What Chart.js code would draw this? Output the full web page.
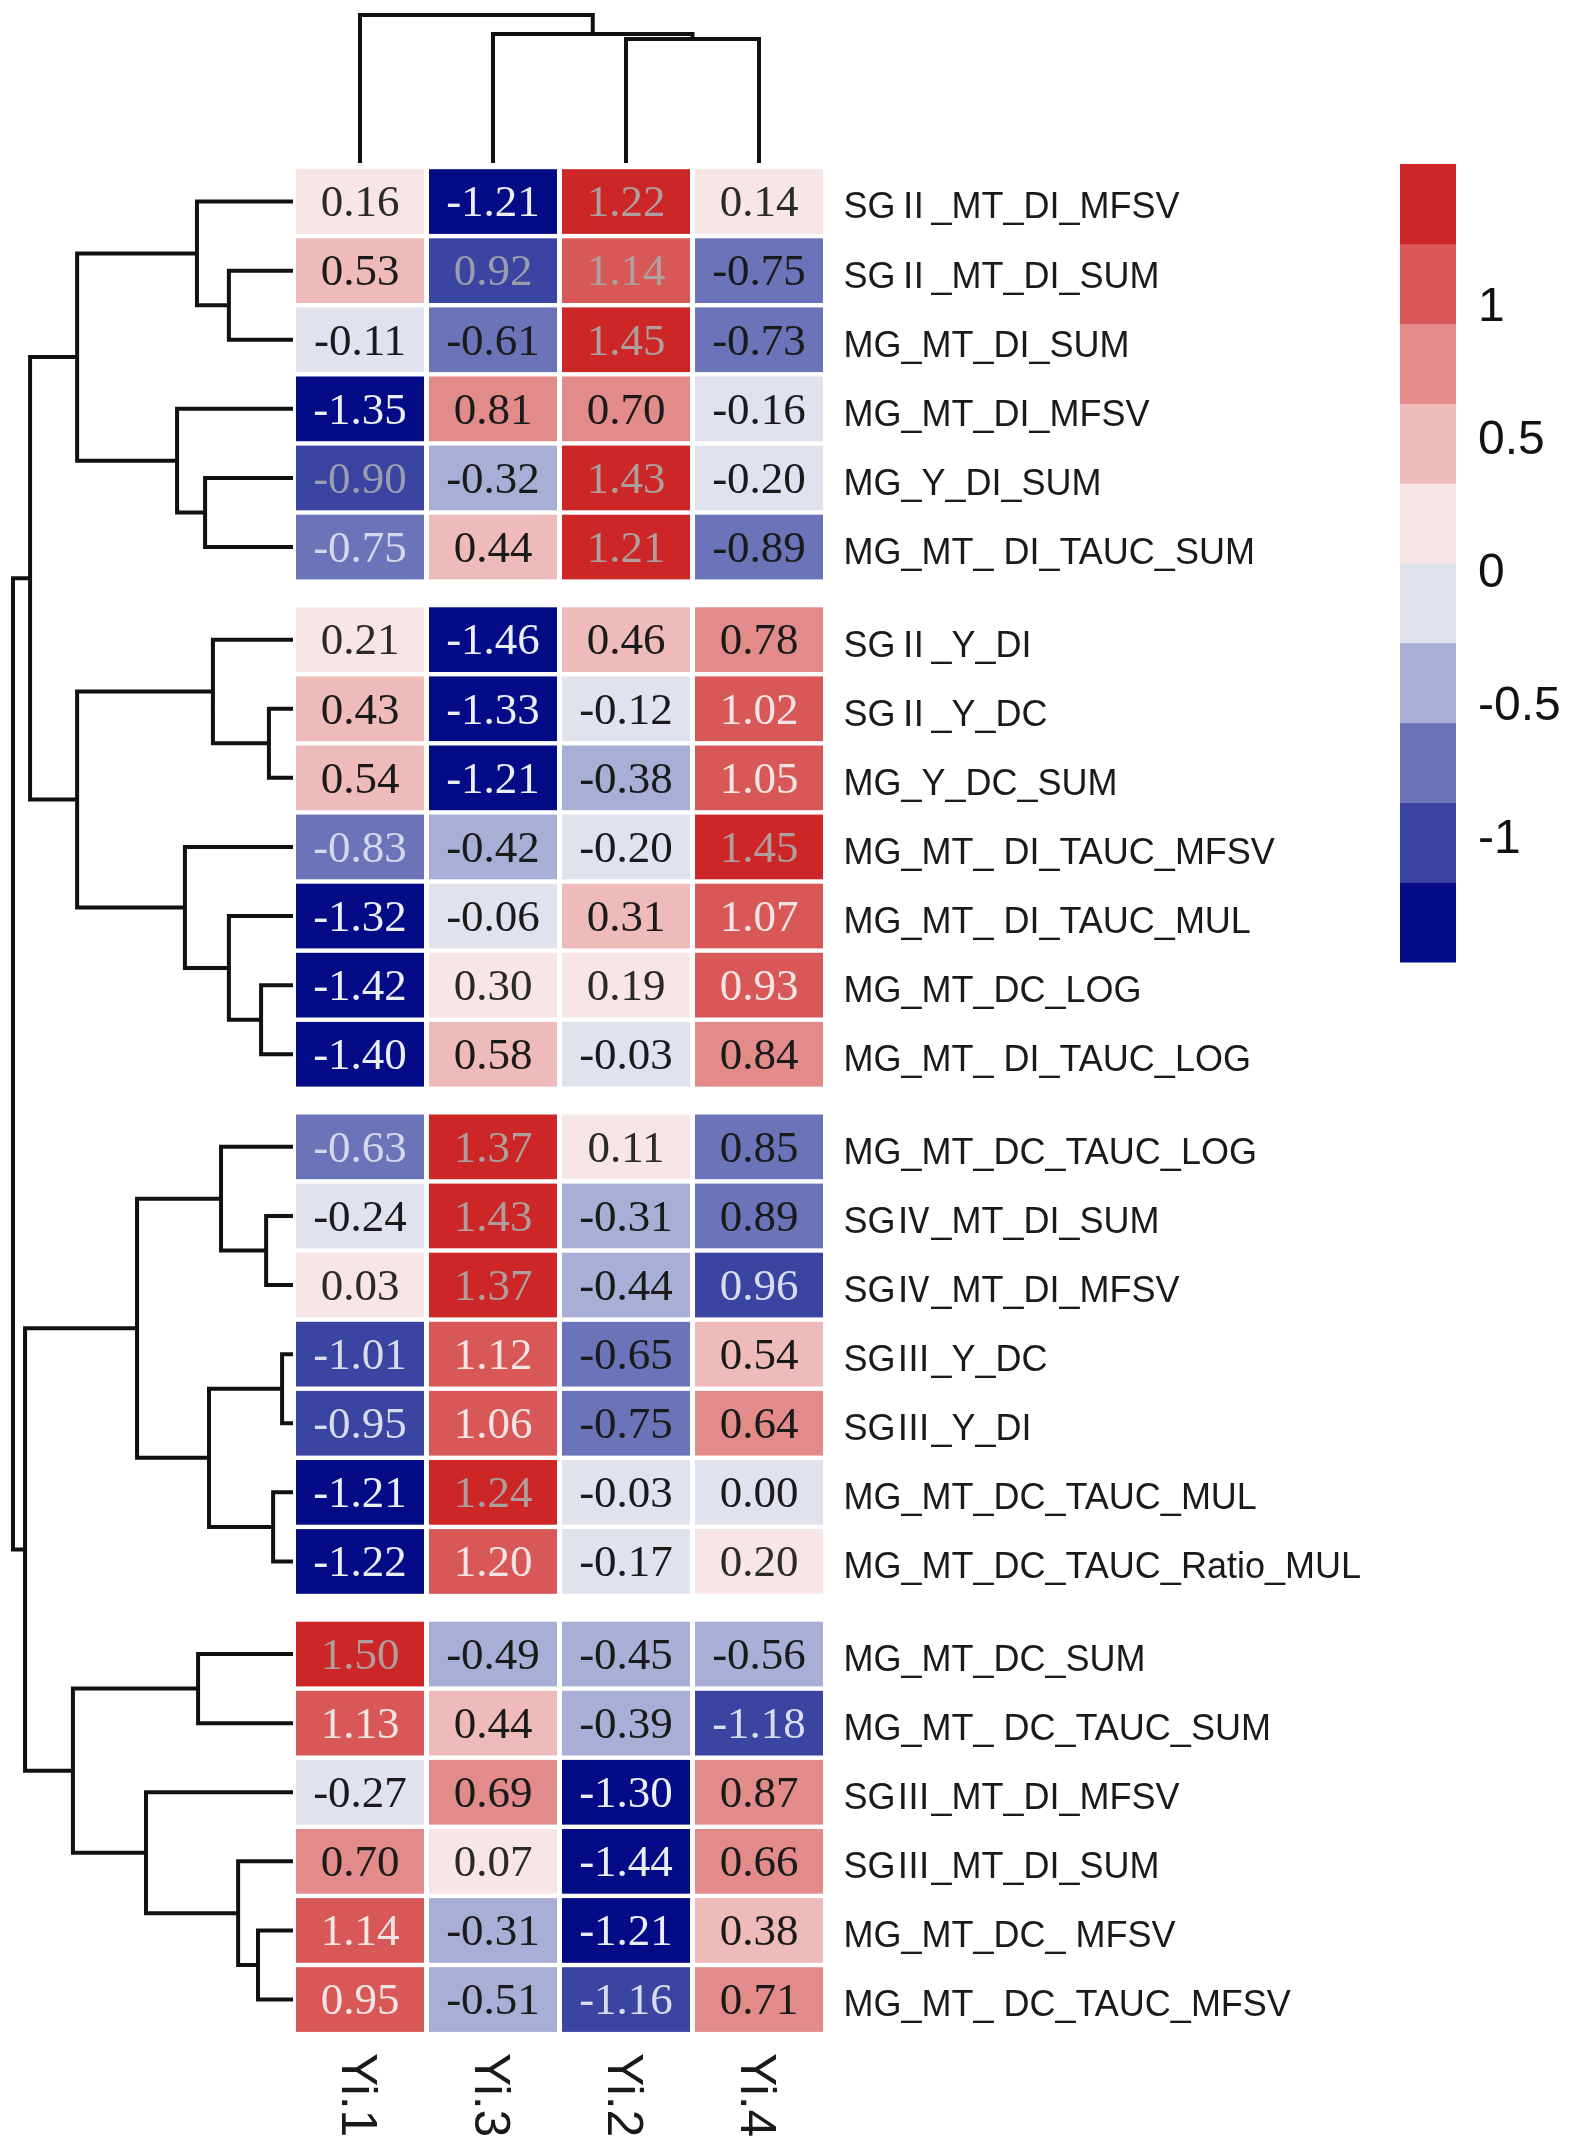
<!DOCTYPE html>
<html>
<head>
<meta charset="utf-8">
<script src="https://cdn.jsdelivr.net/npm/chart.js@4.4.1/dist/chart.umd.min.js"></script>
<style>
  html, body { margin: 0; padding: 0; background: #fff; }
  #wrap { width: 1569px; height: 2153px; position: relative; }
</style>
</head>
<body>
<div id="wrap"><canvas id="heatCanvas"></canvas></div>
<script>
// ---- data ----
const columnLabels = ["Yi.1", "Yi.3", "Yi.2", "Yi.4"];

const rowLabels = [
  "SGⅡ_MT_DI_MFSV", "SGⅡ_MT_DI_SUM", "MG_MT_DI_SUM", "MG_MT_DI_MFSV", "MG_Y_DI_SUM", "MG_MT_ DI_TAUC_SUM",
  "SGⅡ_Y_DI", "SGⅡ_Y_DC", "MG_Y_DC_SUM", "MG_MT_ DI_TAUC_MFSV", "MG_MT_ DI_TAUC_MUL", "MG_MT_DC_LOG", "MG_MT_ DI_TAUC_LOG",
  "MG_MT_DC_TAUC_LOG", "SGⅣ_MT_DI_SUM", "SGⅣ_MT_DI_MFSV", "SGⅢ_Y_DC", "SGⅢ_Y_DI", "MG_MT_DC_TAUC_MUL", "MG_MT_DC_TAUC_Ratio_MUL",
  "MG_MT_DC_SUM", "MG_MT_ DC_TAUC_SUM", "SGⅢ_MT_DI_MFSV", "SGⅢ_MT_DI_SUM", "MG_MT_DC_ MFSV", "MG_MT_ DC_TAUC_MFSV"
];

// rows per cluster block (blocks are separated by a small gap)
const rowGroups = [6, 7, 7, 6];

// one array per column (in displayed column order)
const yi1 = [0.16, 0.53, -0.11, -1.35, -0.90, -0.75, 0.21, 0.43, 0.54, -0.83, -1.32, -1.42, -1.40,
             -0.63, -0.24, 0.03, -1.01, -0.95, -1.21, -1.22, 1.50, 1.13, -0.27, 0.70, 1.14, 0.95];
const yi3 = [-1.21, -0.92, -0.61, 0.81, -0.32, 0.44, -1.46, -1.33, -1.21, -0.42, -0.06, 0.30, 0.58,
             1.37, 1.43, 1.37, 1.12, 1.06, 1.24, 1.20, -0.49, 0.44, 0.69, 0.07, -0.31, -0.51];
const yi2 = [1.22, 1.14, 1.45, 0.70, 1.43, 1.21, 0.46, -0.12, -0.38, -0.20, 0.31, 0.19, -0.03,
             0.11, -0.31, -0.44, -0.65, -0.75, -0.03, -0.17, -0.45, -0.39, -1.30, -1.44, -1.21, -1.16];
const yi4 = [0.14, -0.75, -0.73, -0.16, -0.20, -0.89, 0.78, 1.02, 1.05, 1.45, 1.07, 0.93, 0.84,
             -0.85, -0.89, -0.96, 0.54, 0.64, 0.00, 0.20, -0.56, -1.18, 0.87, 0.66, 0.38, 0.71];
const columnValues = [yi1, yi3, yi2, yi4];

// cells whose printed number has no minus sign although coloured as negative
const unsignedCells = [[1, 1], [13, 3], [14, 3], [15, 3]];
// cells printed in light / grey text instead of the band default
const lightTextCells = [[5, 0], [9, 0], [13, 0]];
const greyTextCells = [[4, 0], [1, 1]];

// dendrograms: [height, left, right], leaves are row / column indices
const rowTree = [10.0,
  [9.39,
    [7.71, [3.43, 0, [2.29, 1, 2]], [4.14, 3, [3.14, 4, 5]]],
    [7.71, [2.86, 6, [0.86, 7, 8]], [3.86, 9, [2.29, 10, [1.14, 11, 12]]]]],
  [9.57,
    [5.57, [2.57, 13, [0.96, 14, 15]], [3.0, [0.39, 16, 17], [0.71, 18, 19]]],
    [7.86, [3.39, 20, 21], [5.25, 22, [1.96, 23, [1.25, 24, 25]]]]]];
const colTree = [10.0, 0, [8.72, 1, [8.38, 2, 3]]];

// colour key
const colorBreaks = [-1.5, -1.2, -0.9, -0.6, -0.3, 0, 0.3, 0.6, 0.9, 1.2, 1.5];
const bandColors = ["#030c86", "#3a44a1", "#6b74b9", "#a8aed6", "#e0e2ee",
                    "#f8e5e6", "#efbaba", "#e38b8b", "#d85858", "#cd2626"];
const bandTextColors = ["#eceef6", "#d8dcec", "#1a1a1a", "#1a1a1a", "#1a1a1a",
                        "#2a2a2a", "#1a1a1a", "#1a1a1a", "#f2e4e4", "#ae9e9e"];
const colorbarTicks = [1, 0.5, 0, -0.5, -1];

// ---- layout (pixels) ----
const W = 1569, H = 2153;
const gridLeft = 293.5, colPitch = 133;
const gridTop = 167, rowPitch = 69.1, groupGap = 23.5;
const rowTreeBase = 293, rowTreeScale = 28;
const colTreeBase = 163, colTreeScale = 14.8;
const barTop = 164, barBottom = 962, barLeft = 1400, barRight = 1456;
const cellInsetX = 2.5, cellInsetY = 2.2;

const gapUnits = groupGap / rowPitch;
const rowGroupOf = [];
rowGroups.forEach((n, g) => { for (let i = 0; i < n; i++) rowGroupOf.push(g); });
const rowPos = (i) => i + rowGroupOf[i] * gapUnits;

function bandIndex(v) {
  let k = 0;
  for (let b = 1; b < colorBreaks.length - 1; b++) if (v > colorBreaks[b]) k = b;
  return k;
}
const inList = (list, r, c) => list.some(p => p[0] === r && p[1] === c);

// walk a tree, returning line points (height, position) with gaps between links
function treePoints(node, leafPos, pts) {
  if (typeof node === "number") return { p: leafPos(node), h: 0 };
  const a = treePoints(node[1], leafPos, pts);
  const b = treePoints(node[2], leafPos, pts);
  const h = node[0];
  pts.push({ h: a.h, p: a.p }, { h: h, p: a.p }, { h: h, p: b.p }, { h: b.h, p: b.p }, null);
  return { p: (a.p + b.p) / 2, h: h };
}

const rowPts = [];
treePoints(rowTree, rowPos, rowPts);
const rowLinks = rowPts.map(q => q ? { x: q.h, y: q.p } : { x: null, y: null });
const colPts = [];
treePoints(colTree, (c) => c, colPts);
const colLinks = colPts.map(q => q ? { x: q.p, y: q.h } : { x: null, y: null });

const cbPpu = (barBottom - barTop) / 3;

const heatPlugin = {
  id: "heatPlugin",
  afterDatasetsDraw(chart) {
    const ctx = chart.ctx;
    const xs = chart.scales.x, ys = chart.scales.y, yc = chart.scales.yc;
    ctx.save();

    // cells
    ctx.textAlign = "center";
    ctx.textBaseline = "middle";
    ctx.font = '45px "Liberation Serif", "Times New Roman", serif';
    rowLabels.forEach((name, r) => {
      columnValues.forEach((col, c) => {
        const v = col[r];
        const k = bandIndex(v);
        const x0 = xs.getPixelForValue(c - 0.5) + cellInsetX;
        const x1 = xs.getPixelForValue(c + 0.5) - cellInsetX;
        const y0 = ys.getPixelForValue(rowPos(r) - 0.5) + cellInsetY;
        const y1 = ys.getPixelForValue(rowPos(r) + 0.5) - cellInsetY;
        ctx.fillStyle = bandColors[k];
        ctx.fillRect(x0, y0, x1 - x0, y1 - y0);
        let tc = bandTextColors[k];
        if (inList(lightTextCells, r, c)) tc = "#d4d8ea";
        if (inList(greyTextCells, r, c)) tc = "#9a9cb0";
        if (r === 1 && c === 2) tc = "#b0a0a0";
        ctx.fillStyle = tc;
        const txt = inList(unsignedCells, r, c) ? Math.abs(v).toFixed(2) : v.toFixed(2);
        ctx.fillText(txt, (x0 + x1) / 2, (y0 + y1) / 2 + 3);
      });
    });

    // row labels
    ctx.textAlign = "left";
    ctx.fillStyle = "#1a1a1a";
    ctx.font = '36px "Liberation Sans", "Noto Sans CJK SC", sans-serif';
    const labelX = xs.getPixelForValue(columnLabels.length - 0.5) + 18;
    rowLabels.forEach((name, r) => {
      ctx.fillText(name, labelX, ys.getPixelForValue(rowPos(r)) + 7);
    });

    // column labels, rotated
    const lastRow = rowLabels.length - 1;
    const colLabelTop = ys.getPixelForValue(rowPos(lastRow) + 0.5) + 19;
    ctx.font = '50px "Liberation Sans", Arial, sans-serif';
    columnLabels.forEach((name, c) => {
      ctx.save();
      ctx.translate(xs.getPixelForValue(c) - 4, colLabelTop);
      ctx.rotate(Math.PI / 2);
      ctx.textAlign = "left";
      ctx.textBaseline = "middle";
      ctx.fillText(name, 0, 0);
      ctx.restore();
    });

    // colour key
    for (let k = 0; k < bandColors.length; k++) {
      const yTop = yc.getPixelForValue(colorBreaks[k + 1]);
      const yBot = yc.getPixelForValue(colorBreaks[k]);
      ctx.fillStyle = bandColors[k];
      ctx.fillRect(barLeft, yTop, barRight - barLeft, yBot - yTop + 0.5);
    }
    ctx.fillStyle = "#111";
    ctx.font = '48px "Liberation Sans", Arial, sans-serif';
    ctx.textAlign = "left";
    ctx.textBaseline = "middle";
    colorbarTicks.forEach(t => {
      ctx.fillText(String(t), barRight + 22, yc.getPixelForValue(t) + 11);
    });

    ctx.restore();
  }
};

const hidden = { display: false, grid: { display: false }, ticks: { display: false }, bounds: "data" };

const chart = new Chart(document.getElementById("heatCanvas"), {
  type: "scatter",
  data: {
    datasets: [
      {
        label: "row dendrogram",
        data: rowLinks,
        xAxisID: "xd",
        yAxisID: "y",
        showLine: true,
        spanGaps: false,
        borderColor: "#111111",
        borderWidth: 4,
        pointRadius: 0,
        borderJoinStyle: "miter",
      },
      {
        label: "column dendrogram",
        data: colLinks,
        xAxisID: "x",
        yAxisID: "yd",
        showLine: true,
        spanGaps: false,
        borderColor: "#111111",
        borderWidth: 4,
        pointRadius: 0,
        borderJoinStyle: "miter",
      },
    ],
  },
  options: {
    responsive: true,
    maintainAspectRatio: false,
    devicePixelRatio: 1,
    animation: false,
    events: [],
    layout: { padding: 0 },
    plugins: { legend: { display: false }, tooltip: { enabled: false } },
    scales: {
      x: { ...hidden, type: "linear", axis: "x",
           min: -0.5 - gridLeft / colPitch, max: -0.5 - gridLeft / colPitch + W / colPitch },
      y: { ...hidden, type: "linear", axis: "y", reverse: true,
           min: -0.5 - gridTop / rowPitch, max: -0.5 - gridTop / rowPitch + H / rowPitch },
      xd: { ...hidden, type: "linear", axis: "x", reverse: true,
            max: rowTreeBase / rowTreeScale, min: rowTreeBase / rowTreeScale - W / rowTreeScale },
      yd: { ...hidden, type: "linear", axis: "y",
            max: colTreeBase / colTreeScale, min: colTreeBase / colTreeScale - H / colTreeScale },
      yc: { ...hidden, type: "linear", axis: "y",
            max: 1.5 + barTop / cbPpu, min: 1.5 + barTop / cbPpu - H / cbPpu },
    },
  },
  plugins: [heatPlugin],
});
</script>
</body>
</html>
